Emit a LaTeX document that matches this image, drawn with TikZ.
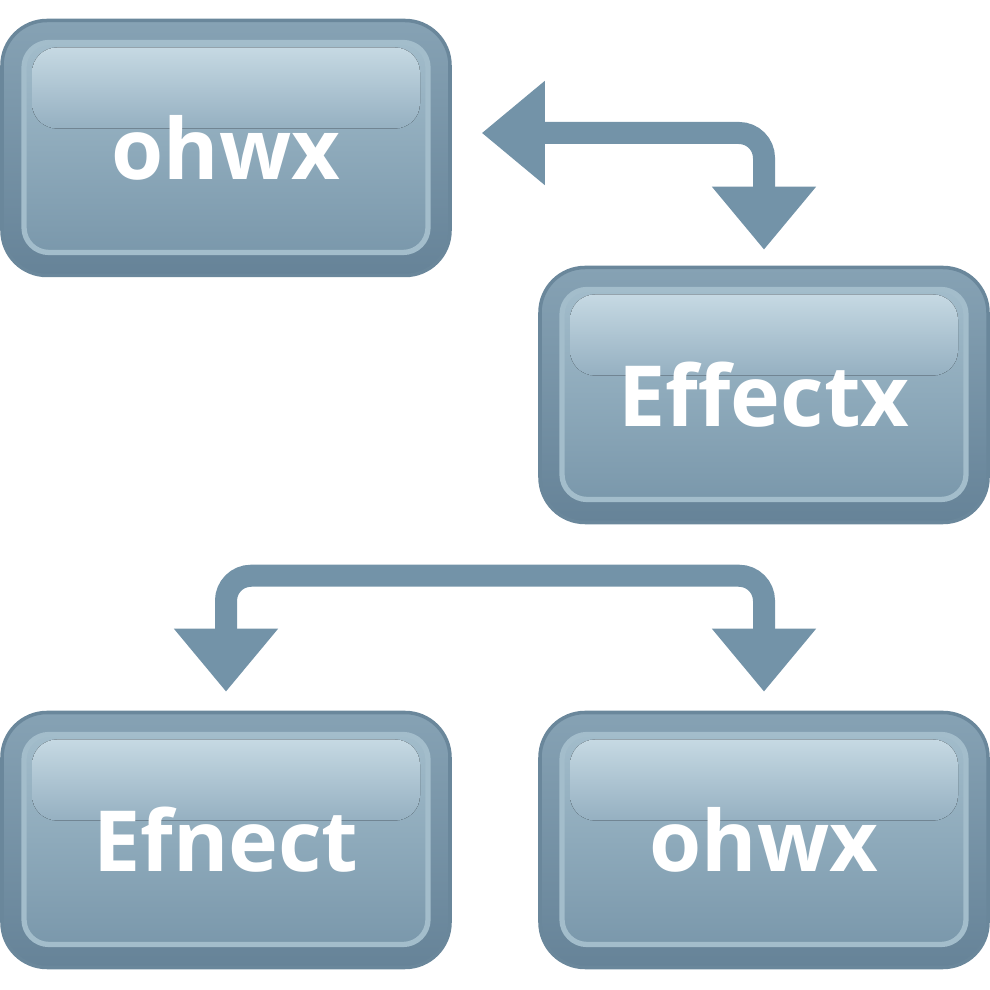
\documentclass[tikz,border=0pt]{standalone}
\usepackage{fontspec}
\setmainfont{Open Sans}
\usepackage{tikz}
\usetikzlibrary{positioning,calc,arrows.meta}

\definecolor{rimTop}{HTML}{86A2B4}
\definecolor{rimBot}{HTML}{668398}
\definecolor{rimLine}{HTML}{6A879B}
\definecolor{rimLight}{HTML}{A3BDCB}
\definecolor{panelTop}{HTML}{A6C0CE}
\definecolor{panelBot}{HTML}{7694A8}
\definecolor{glossTop}{HTML}{C6D9E3}
\definecolor{glossBot}{HTML}{95B0C1}
\definecolor{arrowBlue}{HTML}{7393A8}

\begin{document}
\begin{tikzpicture}[
    keybox/.style={rounded corners=0.45cm, minimum width=4.48cm,
      minimum height=2.55cm, top color=rimTop, bottom color=rimBot,
      draw=rimLine, line width=1pt, text=white, align=center,
      font=\fontsize{24}{28}\selectfont\bfseries, inner sep=0pt,
      path picture={
        \filldraw[rounded corners=0.25cm, draw=rimLight, line width=1.5pt,
          top color=panelTop, bottom color=panelBot]
          ([shift={(0.22,-0.22)}]path picture bounding box.north west)
          rectangle ([shift={(-0.22,0.23)}]path picture bounding box.south east);
        \fill[rounded corners=0.25cm, top color=glossTop, bottom color=glossBot]
          ([shift={(0.30,-0.27)}]path picture bounding box.north west)
          rectangle ([shift={(-0.30,-1.08)}]path picture bounding box.north east);
      }},
    arrow/.style={arrowBlue, line width=0.22cm, rounded corners=0.25cm,
      {Triangle[length=6.3mm, width=10mm]}-{Triangle[length=6.3mm, width=10mm]}}
  ]
    \useasboundingbox (0,0) rectangle (9.9,9.9);
    \node[keybox] (A) at (2.26,8.42) {ohwx};
    \node[keybox] (B) at (7.64,5.95) {Effectx};
    \node[keybox] (C) at (2.26,1.50) {Efnect};
    \node[keybox] (D) at (7.64,1.50) {ohwx};
    \draw[arrow, shorten <=0.30cm, shorten >=0.16cm]
      ([yshift=0.15cm]A.east) -| (B.north);
    \draw[arrow, shorten <=0.19cm, shorten >=0.19cm]
      (C.north) -- ++(0,1.35) -| (D.north);
  \end{tikzpicture}
\end{document}
